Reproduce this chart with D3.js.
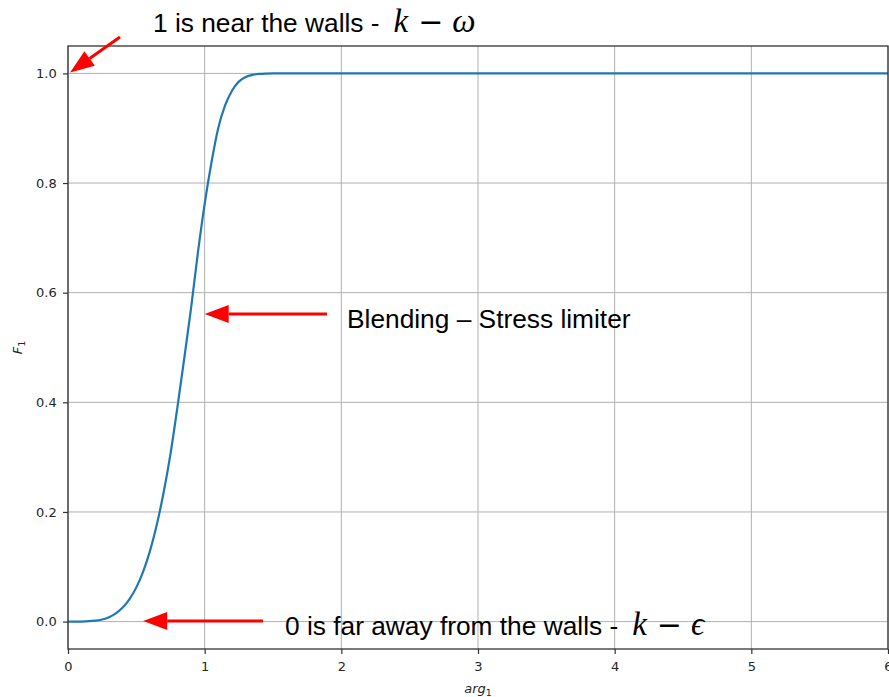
<!DOCTYPE html>
<html><head><meta charset="utf-8">
<script src="https://cdn.jsdelivr.net/npm/d3@7"></script>
<style>body{margin:0;background:#fff}svg{display:block}</style>
</head><body>
<svg id="c" width="889" height="697"></svg>
<script>
// Data
const argValues = [0,0.1,0.2,0.25,0.3,0.35,0.4,0.45,0.5,0.55,0.6,0.65,0.7,0.75,0.8,0.85,0.9,0.95,1.0,1.05,1.1,1.15,1.2,1.25,1.3,1.35,1.4,1.45,1.5,1.75,2,3,4,5,6];
const f1Values  = [0,0.0001,0.0016,0.0039,0.0081,0.015,0.0256,0.041,0.0624,0.0912,0.129,0.177,0.236,0.306,0.39,0.479,0.571,0.672,0.762,0.838,0.901,0.942,0.9685,0.985,0.9934,0.9974,0.9991,0.9997,0.9999,1.0,1.0,1.0,1.0,1.0,1.0];
const xTicks = [0,1,2,3,4,5,6];
const yTicks = [0.0,0.2,0.4,0.6,0.8,1.0];

const svg = d3.select("#c");
const L=68, R=888, T=46, B=649;
const x = d3.scaleLinear().domain([0,6]).range([L,R]);
const y = d3.scaleLinear().domain([-0.05,1.05]).range([B,T]);

// grid
svg.append("g").selectAll("line").data(xTicks).join("line")
  .attr("x1",d=>x(d)).attr("x2",d=>x(d)).attr("y1",T).attr("y2",B)
  .attr("stroke","#b0b0b0").attr("stroke-width",1);
svg.append("g").selectAll("line").data(yTicks).join("line")
  .attr("y1",d=>y(d)).attr("y2",d=>y(d)).attr("x1",L).attr("x2",R)
  .attr("stroke","#b0b0b0").attr("stroke-width",1);

// curve
const pts = argValues.map((a,i)=>[a,f1Values[i]]);
svg.append("path").datum(pts)
  .attr("d", d3.line().x(d=>x(d[0])).y(d=>y(d[1])).curve(d3.curveMonotoneX))
  .attr("fill","none").attr("stroke","#1f77b4").attr("stroke-width",2.2);

// axes
const font = "'DejaVu Sans', sans-serif";
const xa = svg.append("g").attr("transform",`translate(0,${B})`)
  .call(d3.axisBottom(x).tickValues(xTicks).tickFormat(d3.format("d")).tickSize(5).tickSizeOuter(0));
const ya = svg.append("g").attr("transform",`translate(${L},0)`)
  .call(d3.axisLeft(y).tickValues(yTicks).tickFormat(d3.format(".1f")).tickSize(5).tickSizeOuter(0));
[xa,ya].forEach(g=>{
  g.select(".domain").remove();
  g.selectAll("line").attr("stroke","#333").attr("stroke-width",1.2);
  g.selectAll("text").attr("font-family",font).attr("font-size",13).attr("fill","#262626");
});
xa.selectAll("text").attr("dy","1.05em");
ya.selectAll("text").attr("dx","-0.25em");
// spines
svg.append("rect").attr("x",L).attr("y",T).attr("width",R-L).attr("height",B-T)
  .attr("fill","none").attr("stroke","#333").attr("stroke-width",1.3);

// axis labels
const xl = svg.append("text").attr("x",x(3)).attr("y",693).attr("text-anchor","middle")
  .attr("font-family",font).attr("font-size",13).attr("font-style","italic").attr("fill","#262626");
xl.append("tspan").text("arg");
xl.append("tspan").attr("font-size",9.5).attr("dy",3).attr("font-style","normal").text("1");
const yl = svg.append("text").attr("transform",`translate(22,${y(0.5)}) rotate(-90)`).attr("text-anchor","middle")
  .attr("font-family",font).attr("font-size",13).attr("font-style","italic").attr("fill","#262626");
yl.append("tspan").text("F");
yl.append("tspan").attr("font-size",9.5).attr("dy",3).attr("font-style","normal").text("1");

// arrows
function arrow(x1,y1,x2,y2){
  const ang = Math.atan2(y2-y1,x2-x1);
  const hl=24, hw=9;
  const bx = x2 - hl*Math.cos(ang), by = y2 - hl*Math.sin(ang);
  svg.append("line").attr("x1",x1).attr("y1",y1).attr("x2",bx).attr("y2",by)
    .attr("stroke","#ff0000").attr("stroke-width",3);
  const px=-Math.sin(ang), py=Math.cos(ang);
  svg.append("path").attr("d",`M${x2},${y2}L${bx+px*hw},${by+py*hw}L${bx-px*hw},${by-py*hw}Z`)
    .attr("fill","#ff0000");
}
arrow(120, 37, x(0.015), y(1.0)-1);
arrow(327, 314, x(1.0), 314);
arrow(263, 621, x(0.55), 621);

function label(tx, ty, txt, mathParts){
  const t = svg.append("text").attr("x",tx).attr("y",ty)
    .attr("font-family","'Liberation Sans', Arial, sans-serif").attr("font-size",26.3).attr("fill","#000");
  t.append("tspan").text(txt);
  if(mathParts){
    const mf = "'Liberation Serif','DejaVu Serif',serif";
    t.append("tspan").attr("font-family",mf).attr("font-style","italic").attr("font-size",33).attr("dx",14).text(mathParts[0]);
    t.append("tspan").attr("font-family","'DejaVu Sans',sans-serif").attr("font-size",30).attr("dx",10).text("−");
    t.append("tspan").attr("font-family",mf).attr("font-style","italic").attr("font-size",33).attr("dx",9).text(mathParts[1]);
  }
}
label(153, 32, "1 is near the walls -", ["k","ω"]);
label(347, 328, "Blending – Stress limiter", null);
label(285, 635, "0 is far away from the walls -", ["k","ϵ"]);
</script>
</body></html>
